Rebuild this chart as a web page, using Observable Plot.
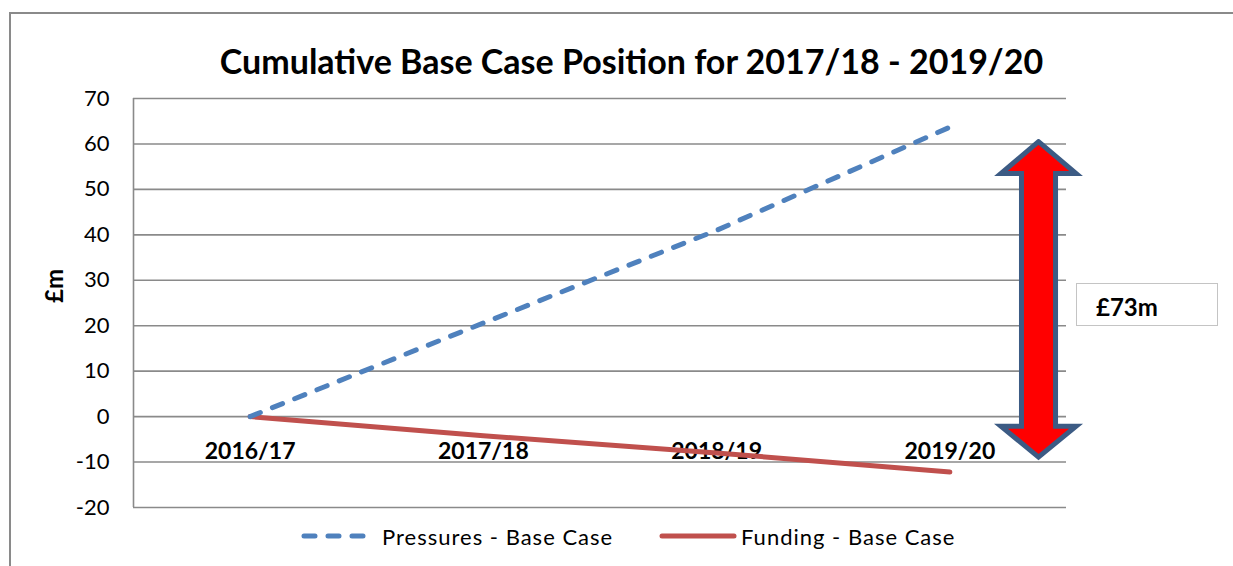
<!DOCTYPE html>
<html>
<head>
<meta charset="utf-8">
<script src="https://cdn.jsdelivr.net/npm/d3@7"></script>
<script src="https://cdn.jsdelivr.net/npm/@observablehq/plot@0.6"></script>
<style>
  html, body { margin: 0; padding: 0; background: #fff; }
  body { width: 1233px; height: 566px; position: relative; overflow: hidden; font-family: Lato, "Open Sans", sans-serif; }
  #frame { position: absolute; left: 9px; top: 12px; width: 1400px; height: 700px; border-left: 2px solid #8a8a8a; border-top: 2px solid #8a8a8a; box-sizing: border-box; }
  #title { position: absolute; left: 0; top: 0; width: 1263px; height: 90px; text-align: center; font-weight: 700; font-size: 34px; line-height: 1; color: #000; }
  #title span { position: absolute; left: 0; right: 0; top: 44px; }
  #chart { position: absolute; left: 0; top: 90px; }
  .leg { position: absolute; top: 523px; height: 26px; display: flex; align-items: center; font-size: 22px; color: #000; letter-spacing: 1px; }
  #box { position: absolute; left: 1076px; top: 283px; width: 142px; height: 43px; border: 1.5px solid #c4c4c4; box-sizing: border-box; background: #fff; }
  #box span { position: absolute; left: 19px; top: 8px; font-weight: 700; font-size: 24px; }
</style>
</head>
<body>
<div id="frame"></div>
<div id="title"><span>Cumulative Base Case Position for 2017/18 - 2019/20</span></div>
<div id="chart"></div>
<div id="box"><span>£73m</span></div>
<div class="leg" id="leg1" style="left:300px"></div>
<div class="leg" id="leg2" style="left:658px"></div>
<script>
// ---- data ----
const categories = ["2016/17", "2017/18", "2018/19", "2019/20"];
const pressures = [0, 20.6, 41, 63.7];
const funding = [0, -4.2, -8, -12.2];
const yTicks = [-20, -10, 0, 10, 20, 30, 40, 50, 60, 70];
const seriesNames = ["Pressures - Base Case", "Funding - Base Case"];
const yLabel = "£m";
const gapLabel = "£73m";
// double-headed arrow annotation (x in category index units, y in £m)
const arrowCenter = 3.38;
const arrowHeadHalf = 0.161;
const arrowShaftHalf = 0.073;
const arrowTop = 60.5, arrowTopBase = 53.5, arrowBottomBase = -2.1, arrowBottom = -8.9;

const blue = "#4F81BD", red = "#C0504D", grid = "#8a8a8a";

const pData = pressures.map((v, i) => ({i, v}));
const fData = funding.map((v, i) => ({i, v}));
const catData = categories.map((c, i) => ({i, c}));
const arrow = [
  [arrowCenter, arrowTop],
  [arrowCenter + arrowHeadHalf, arrowTopBase],
  [arrowCenter + arrowShaftHalf, arrowTopBase],
  [arrowCenter + arrowShaftHalf, arrowBottomBase],
  [arrowCenter + arrowHeadHalf, arrowBottomBase],
  [arrowCenter, arrowBottom],
  [arrowCenter - arrowHeadHalf, arrowBottomBase],
  [arrowCenter - arrowShaftHalf, arrowBottomBase],
  [arrowCenter - arrowShaftHalf, arrowTopBase],
  [arrowCenter - arrowHeadHalf, arrowTopBase],
  [arrowCenter, arrowTop]
].map(([x, y]) => ({x, y}));

const chart = Plot.plot({
  width: 1233,
  height: 430,
  marginLeft: 133,
  marginRight: 167,
  marginTop: 8,
  marginBottom: 13,
  style: {fontFamily: "Lato, 'Open Sans', sans-serif", color: "#000", background: "transparent", overflow: "visible"},
  x: {domain: [-0.5, categories.length - 0.5], axis: null},
  y: {domain: [-20, 70], axis: null},
  marks: [
    Plot.gridY(yTicks, {stroke: grid, strokeOpacity: 1, strokeWidth: 1.6}),
    Plot.ruleX([-0.5], {stroke: grid, strokeWidth: 1.6}),
    Plot.axisY(yTicks, {tickSize: 0, tickPadding: 24, fontSize: 22, label: null, tickFormat: d => String(d)}),
    Plot.text([yLabel], {frameAnchor: "left", rotate: -90, dx: -78, fontSize: 24, fontWeight: "bold"}),
    Plot.text(catData, {x: "i", y: 0, text: "c", dy: 35, fontSize: 23, fontWeight: "bold"}),
    Plot.line(fData, {x: "i", y: "v", stroke: red, strokeWidth: 5, strokeLinecap: "round"}),
    Plot.line(pData, {x: "i", y: "v", stroke: blue, strokeWidth: 5, strokeLinecap: "round", strokeDasharray: "11,13"}),
    Plot.line(arrow, {x: "x", y: "y", fill: "#FF0000", stroke: "#3C5B84", strokeWidth: 5, strokeLinejoin: "miter", strokeMiterlimit: 10})
  ]
});
document.getElementById("chart").append(chart);

function legendItem(el, name, color, dash, w, gap) {
  el.innerHTML = `<svg width="${w}" height="14" style="margin-right:${gap}px"><line x1="4" x2="${w - 4}" y1="7" y2="7" stroke="${color}" stroke-width="5" stroke-linecap="round" ${dash ? 'stroke-dasharray="11,13"' : ''}/></svg><span>${name}</span>`;
}
legendItem(document.getElementById("leg1"), seriesNames[0], blue, true, 72, 10);
legendItem(document.getElementById("leg2"), seriesNames[1], red, false, 80, 3);
document.querySelector("#box span").textContent = gapLabel;
</script>
</body>
</html>
